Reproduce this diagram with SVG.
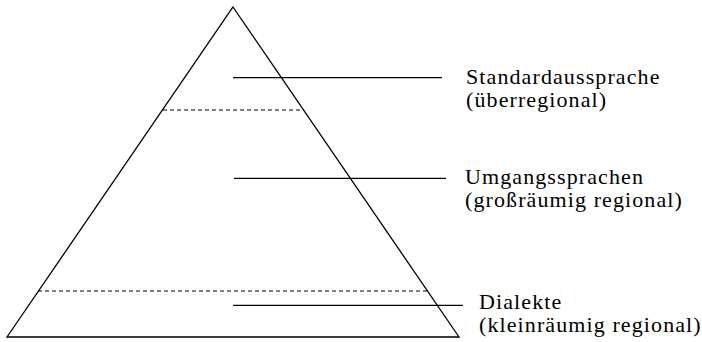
<svg xmlns="http://www.w3.org/2000/svg" width="702" height="342" viewBox="0 0 702 342">
<style>
.s{stroke:#000;stroke-width:1.3;fill:none}
.d{stroke:#000;stroke-width:1.2;stroke-dasharray:4 3;fill:none}
.t{font-family:"Liberation Serif","Times New Roman",serif;font-size:22px;letter-spacing:1.1px;fill:#000}
</style>
<rect width="702" height="342" fill="#fff"/>
<g id="pyramid">
<polygon class="s" points="233,7 459,337 7,337"/>
<line class="d" x1="163" y1="110" x2="304" y2="110"/>
<line class="d" x1="38" y1="291" x2="428" y2="291"/>
</g>
<g id="connectors">
<line class="s" x1="233" y1="77.7" x2="442" y2="77.7"/>
<line class="s" x1="234" y1="178.3" x2="446" y2="178.3"/>
<line class="s" x1="233" y1="305.3" x2="463" y2="305.3"/>
</g>
<g id="standard">
<text class="t" x="466" y="84">Standardaussprache</text>
<text class="t" x="466" y="107">(überregional)</text>
</g>
<g id="umgang">
<text class="t" x="465" y="184">Umgangssprachen</text>
<text class="t" x="465" y="207">(großräumig regional)</text>
</g>
<g id="dialekte">
<text class="t" x="479" y="309">Dialekte</text>
<text class="t" x="479" y="332">(kleinräumig regional)</text>
</g>
</svg>
